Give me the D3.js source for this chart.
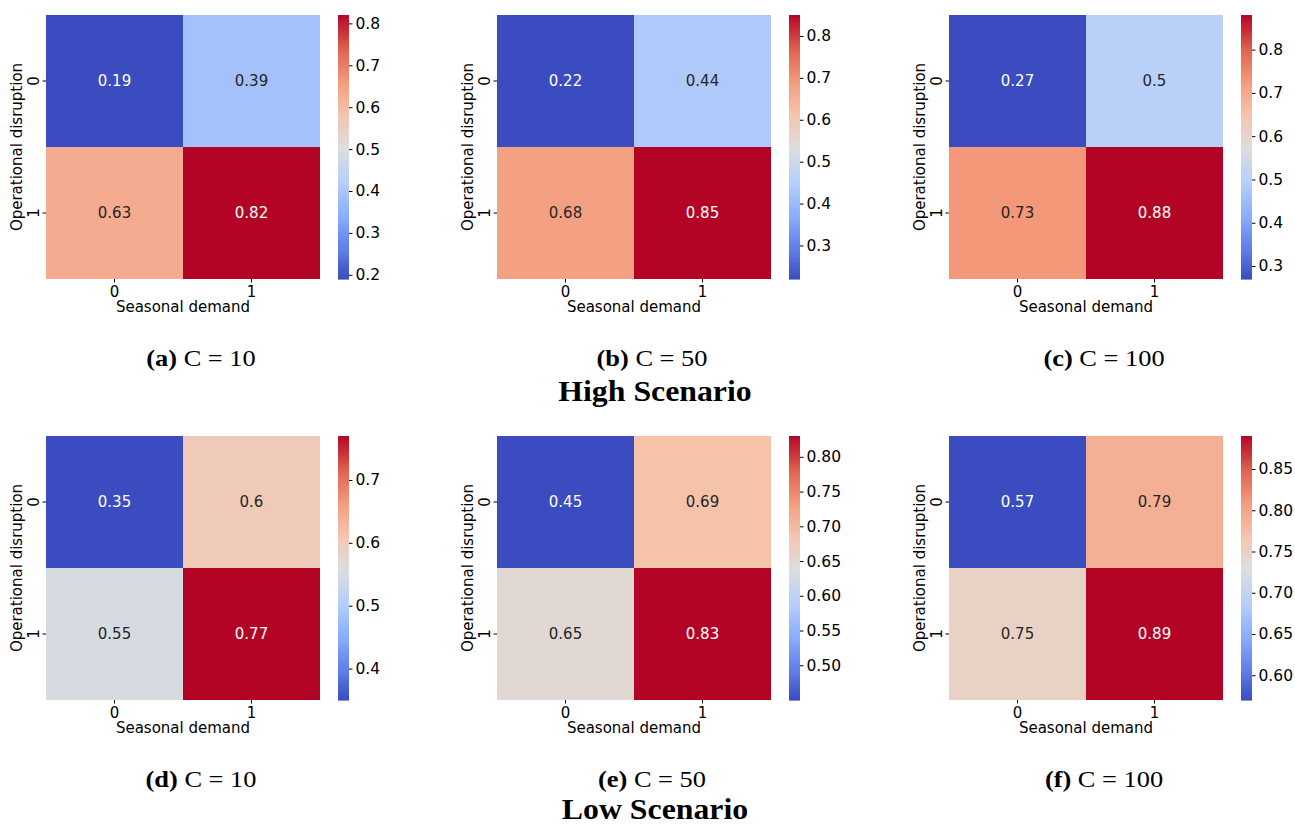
<!DOCTYPE html>
<html>
<head>
<meta charset="utf-8">
<script src="https://cdn.jsdelivr.net/npm/d3@7"></script>
<style>
  body { margin: 0; background: #fff; }
  svg text { font-family: "DejaVu Sans", sans-serif; }
  svg text.cap { font-family: "Liberation Serif", "Times New Roman", serif; }
</style>
</head>
<body>
<svg id="fig" width="1295" height="826"></svg>
<script>
// axis categories
var rowLabels = ['0', '1'],
    colLabels = ['0', '1'];

// cell values, row-major: [row0col0, row0col1, row1col0, row1col1]
var highC10  = [0.19, 0.39, 0.63, 0.82],
    highC50  = [0.22, 0.44, 0.68, 0.85],
    highC100 = [0.27, 0.50, 0.73, 0.88],
    lowC10   = [0.35, 0.60, 0.55, 0.77],
    lowC50   = [0.45, 0.69, 0.65, 0.83],
    lowC100  = [0.57, 0.79, 0.75, 0.89];

// colorbar ticks
var ticksA = [0.2, 0.3, 0.4, 0.5, 0.6, 0.7, 0.8],
    ticksB = [0.3, 0.4, 0.5, 0.6, 0.7, 0.8],
    ticksC = [0.3, 0.4, 0.5, 0.6, 0.7, 0.8],
    ticksD = [0.4, 0.5, 0.6, 0.7],
    ticksE = [0.50, 0.55, 0.60, 0.65, 0.70, 0.75, 0.80],
    ticksF = [0.60, 0.65, 0.70, 0.75, 0.80, 0.85];

var captions = [['(a)', ' C = 10'], ['(b)', ' C = 50'], ['(c)', ' C = 100'],
                ['(d)', ' C = 10'], ['(e)', ' C = 50'], ['(f)', ' C = 100']];
var scenarioTitles = ['High Scenario', 'Low Scenario'];

var panels = [
    {vals: highC10,  ticks: ticksA, dec: 1},
    {vals: highC50,  ticks: ticksB, dec: 1},
    {vals: highC100, ticks: ticksC, dec: 1},
    {vals: lowC10,   ticks: ticksD, dec: 1},
    {vals: lowC50,   ticks: ticksE, dec: 2},
    {vals: lowC100,  ticks: ticksF, dec: 2}
];

// matplotlib coolwarm, sampled
var coolwarm = d3.scaleLinear()
    .domain([0, 0.125, 0.25, 0.375, 0.5, 0.625, 0.75, 0.875, 1])
    .range(['#3b4cc0', '#6282ea', '#8db0fe', '#b8d0f9', '#dddddd',
            '#f5c4ad', '#f49a7b', '#de604d', '#b40426'])
    .interpolate(d3.interpolateRgb);

var colX = [46, 497, 949],
    rowY = [15, 436],
    titleY = [401, 819],
    hmW = 274, hmH = 264,
    cbOff = 292, cbW = 11,
    fs = '15px';

var svg = d3.select('#fig');

function luminance(c) {
    var rgb = d3.rgb(c);
    var f = function(v) { v /= 255; return v <= 0.03928 ? v / 12.92 : Math.pow((v + 0.055) / 1.055, 2.4); };
    return 0.2126 * f(rgb.r) + 0.7152 * f(rgb.g) + 0.0722 * f(rgb.b);
}

panels.forEach(function(p, i) {
    var x0 = colX[i % 3], y0 = rowY[Math.floor(i / 3)];
    var g = svg.append('g').attr('transform', 'translate(' + x0 + ',' + y0 + ')');

    var x = d3.scaleBand().domain(colLabels).range([0, hmW]);
    var y = d3.scaleBand().domain(rowLabels).range([0, hmH]);
    var vmin = d3.min(p.vals), vmax = d3.max(p.vals);
    var norm = d3.scaleLinear().domain([vmin, vmax]).range([0, 1]);
    var color = function(v) { return coolwarm(norm(v)); };

    var cells = [];
    rowLabels.forEach(function(r, ri) {
        colLabels.forEach(function(c, ci) {
            cells.push({r: r, c: c, v: p.vals[ri * 2 + ci]});
        });
    });

    g.selectAll('rect.cell').data(cells).enter().append('rect')
        .attr('class', 'cell')
        .attr('x', function(d) { return x(d.c); })
        .attr('y', function(d) { return y(d.r); })
        .attr('width', x.bandwidth())
        .attr('height', y.bandwidth())
        .attr('fill', function(d) { return color(d.v); });

    g.selectAll('text.annot').data(cells).enter().append('text')
        .attr('class', 'annot')
        .attr('x', function(d) { return x(d.c) + x.bandwidth() / 2; })
        .attr('y', function(d) { return y(d.r) + y.bandwidth() / 2; })
        .attr('dy', '0.35em')
        .attr('text-anchor', 'middle')
        .style('font-size', fs)
        .attr('fill', function(d) { return luminance(color(d.v)) < 0.408 ? '#ffffff' : '#262626'; })
        .text(function(d) { return d3.format('.2~f')(d.v); });

    // x axis
    var xAxis = g.append('g')
        .attr('transform', 'translate(0,' + hmH + ')')
        .call(d3.axisBottom(x).tickSize(3.5).tickPadding(4));
    xAxis.select('.domain').remove();
    xAxis.selectAll('text').style('font-size', fs).attr('fill', '#000');
    xAxis.selectAll('line').attr('stroke', '#000');

    g.append('text')
        .attr('x', hmW / 2).attr('y', hmH + 33)
        .attr('text-anchor', 'middle')
        .style('font-size', fs)
        .text('Seasonal demand');

    // y axis
    var yAxis = g.append('g').call(d3.axisLeft(y).tickSize(3.5).tickPadding(4));
    yAxis.select('.domain').remove();
    yAxis.selectAll('line').attr('stroke', '#000');
    yAxis.selectAll('text')
        .style('font-size', fs).attr('fill', '#000')
        .attr('text-anchor', 'middle')
        .attr('transform', 'translate(-12,0) rotate(-90)')
        .attr('x', 0).attr('y', 0)
        .attr('dy', '0.35em');

    g.append('text')
        .attr('transform', 'translate(-24,' + (hmH / 2) + ') rotate(-90)')
        .attr('text-anchor', 'middle')
        .style('font-size', fs)
        .text('Operational disruption');

    // colorbar
    var cb = g.append('g').attr('transform', 'translate(' + cbOff + ',0)');
    var cy = d3.scaleLinear().domain([vmin, vmax]).range([hmH, 0]);
    var steps = d3.range(0, 1.0001, 1 / 128);
    cb.selectAll('rect').data(steps.slice(0, -1)).enter().append('rect')
        .attr('x', 0)
        .attr('y', function(t, k) { return cy(vmin + steps[k + 1] * (vmax - vmin)); })
        .attr('width', cbW)
        .attr('height', hmH / 128 + 0.6)
        .attr('fill', function(t) { return coolwarm(t + 0.5 / 128); });
    var cAxis = cb.append('g')
        .attr('transform', 'translate(' + cbW + ',0)')
        .call(d3.axisRight(cy).tickValues(p.ticks).tickSize(3.5).tickPadding(3)
            .tickFormat(d3.format('.' + p.dec + 'f')));
    cAxis.select('.domain').remove();
    cAxis.selectAll('line').attr('stroke', '#000');
    cAxis.selectAll('text').style('font-size', '15.5px').attr('fill', '#000');

    // caption
    var cap = svg.append('text')
        .attr('class', 'cap')
        .attr('transform', 'translate(' + (x0 + 155) + ',' + (y0 + 351) + ') scale(1.1,1)')
        .attr('text-anchor', 'middle')
        .style('font-size', '24px');
    cap.append('tspan').style('font-weight', 'bold').text(captions[i][0]);
    cap.append('tspan').text(captions[i][1]);
});

scenarioTitles.forEach(function(t, k) {
    svg.append('text')
        .attr('class', 'cap')
        .attr('transform', 'translate(655,' + titleY[k] + ') scale(1.06,1)')
        .attr('text-anchor', 'middle')
        .style('font-size', '30px')
        .style('font-weight', 'bold')
        .text(t);
});
</script>
</body>
</html>
